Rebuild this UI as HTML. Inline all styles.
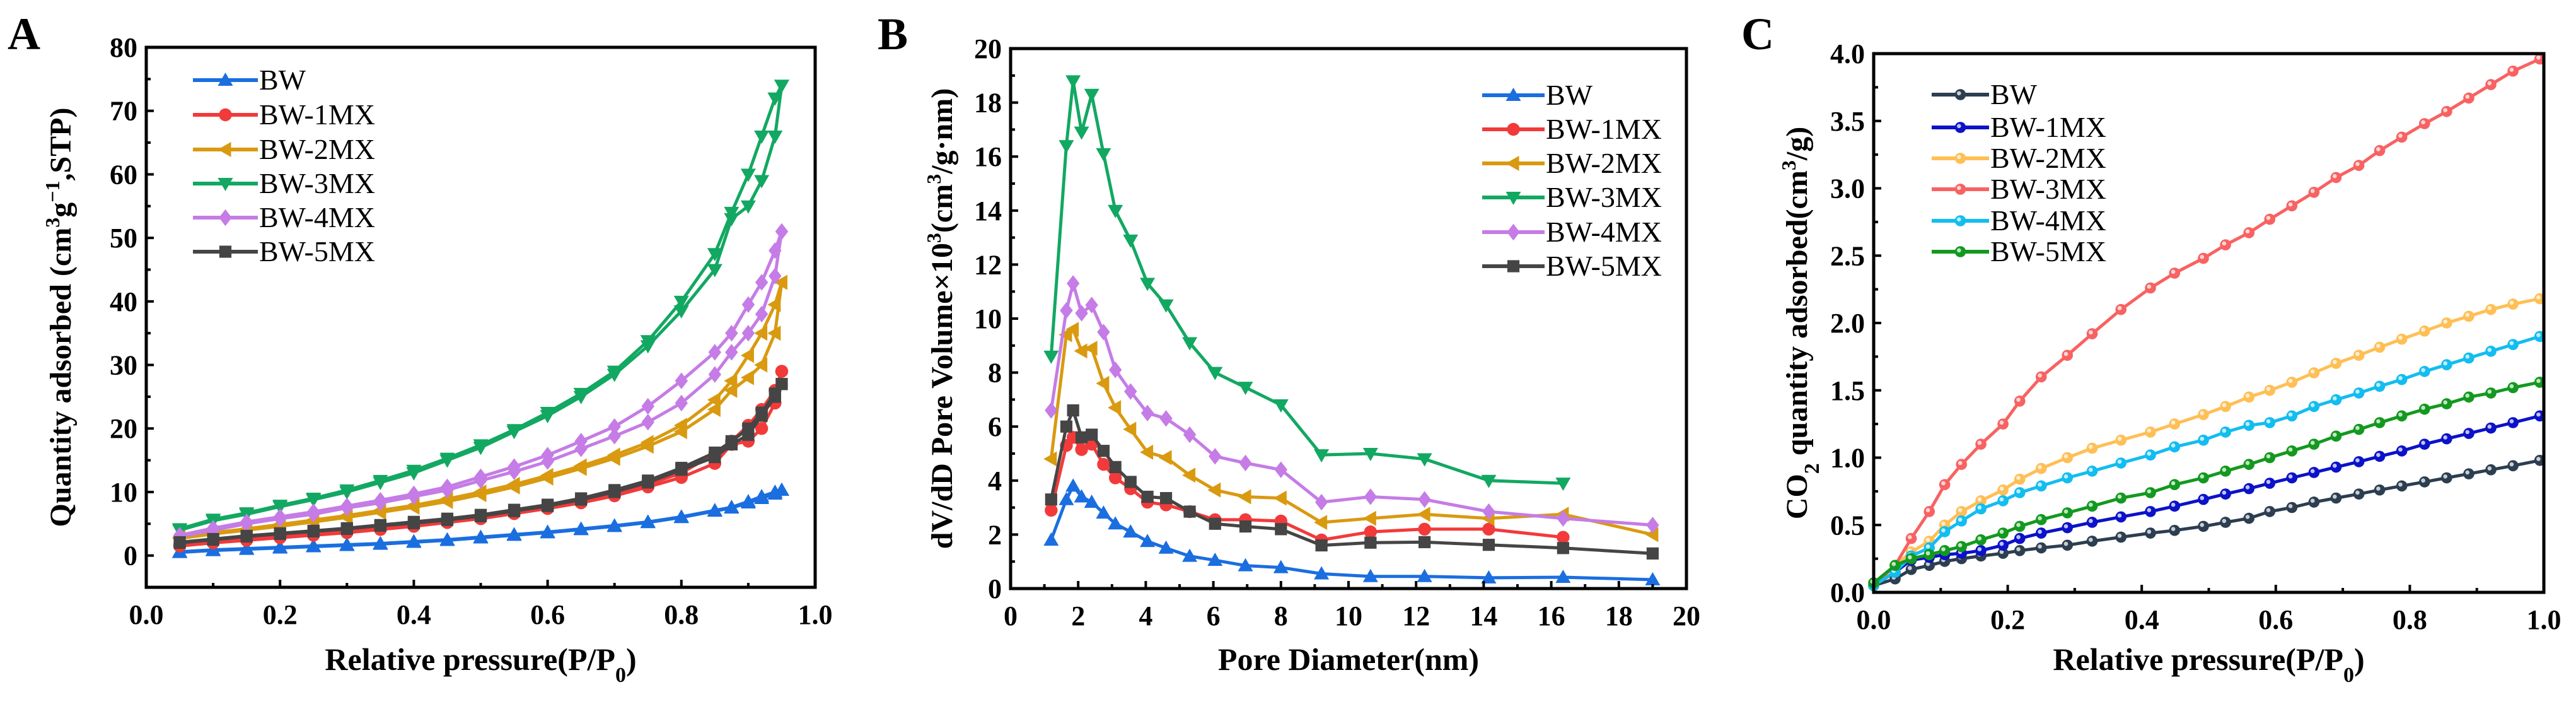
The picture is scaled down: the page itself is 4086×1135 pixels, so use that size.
<!DOCTYPE html>
<html><head><meta charset="utf-8">
<style>
html,body{margin:0;padding:0;background:#fff;}
svg{display:block;font-family:"Liberation Serif",serif;}
</style></head>
<body>
<svg id="fig" width="4086" height="1135" viewBox="0 0 4086 1135" xmlns="http://www.w3.org/2000/svg"></svg>
<script>
// ---------- Panel A data ----------
const aX = [0.05,0.1,0.15,0.2,0.25,0.3,0.35,0.4,0.45,0.5,0.55,0.6,0.65,0.7,0.75,0.8,0.85,0.875,0.9,0.92,0.94,0.95];
const aBWads  = [0.5,0.8,1,1.2,1.4,1.6,1.8,2.1,2.4,2.8,3.2,3.6,4.1,4.6,5.2,6,7,7.5,8.3,9,9.7,10.3];
const aBWdes  = [0.6,0.9,1.1,1.3,1.5,1.7,1.9,2.2,2.5,2.9,3.3,3.7,4.2,4.7,5.3,6.1,7.1,7.6,8.5,9.3,10,10.3];
const a1ads = [1.5,2,2.4,2.8,3.2,3.6,4.1,4.6,5.2,5.8,6.6,7.4,8.3,9.4,10.8,12.3,14.5,17.5,18,20,24,29];
const a1des = [1.7,2.2,2.6,3,3.4,3.8,4.3,4.8,5.4,6,6.8,7.6,8.6,9.8,11.2,13,16,18,20.5,23,26,29];
const a2ads = [2.7,3.4,4,4.6,5.3,6,6.8,7.6,8.5,9.6,10.8,12.2,13.7,15.3,17.2,19.5,23,26,28,30,35,43];
const a2des = [2.9,3.6,4.2,4.9,5.6,6.3,7.1,7.9,8.9,10,11.2,12.6,14.1,15.8,17.8,20.5,24.5,27.5,31.5,35,39.5,43];
const a3ads = [4,5.5,6.5,7.7,8.8,10,11.5,13,15,17,19.5,22,25,28.5,33,38.5,45,53,55,59,66,74];
const a3des = [4.2,5.7,6.7,7.9,9,10.3,11.8,13.4,15.3,17.4,19.8,22.5,25.5,29,33.8,40,47.5,54,60,66,72,74];
const a4ads = [3,4,5,5.8,6.5,7.5,8.3,9.3,10.3,11.8,13.2,14.8,16.8,18.8,21,24,28.5,32,35,38,44,51];
const a4des = [3.2,4.3,5.3,6.1,6.9,7.8,8.7,9.7,10.8,12.4,14,15.8,18,20.3,23.5,27.5,32,35,39.5,43,48,51];
const a5ads = [2,2.5,3,3.4,3.8,4.2,4.7,5.1,5.6,6.2,7,7.8,8.8,10,11.5,13.5,15.5,17.5,19,22,25,27];
const a5des = [2.1,2.6,3.1,3.5,3.9,4.3,4.8,5.3,5.8,6.4,7.2,8,9,10.3,11.8,13.8,16.2,18,20,22.5,25.5,27];
const aXTicks = [0,0.2,0.4,0.6,0.8,1.0];
const aXTickLabels = ["0.0","0.2","0.4","0.6","0.8","1.0"];
const aYTicks = [0,10,20,30,40,50,60,70,80];

// ---------- Panel B data ----------
const bX = [1.2,1.65,1.85,2.1,2.4,2.75,3.1,3.55,4.05,4.6,5.3,6.05,6.95,8.0,9.2,10.65,12.25,14.15,16.35,19.0];
const bBW = [1.8,3.3,3.8,3.4,3.2,2.8,2.4,2.1,1.75,1.5,1.2,1.05,0.85,0.78,0.55,0.45,0.45,0.4,0.42,0.33];
const b1 = [2.9,5.3,5.6,5.15,5.35,4.6,4.1,3.7,3.2,3.1,2.85,2.55,2.55,2.5,1.8,2.1,2.2,2.2,1.9,null];
const b2 = [4.8,9.4,9.6,8.8,8.9,7.6,6.7,5.9,5.05,4.85,4.2,3.65,3.4,3.35,2.45,2.6,2.75,2.6,2.75,2.0];
const b3 = [8.6,16.4,18.8,16.9,18.3,16.1,14.0,12.9,11.3,10.5,9.1,8.0,7.45,6.8,4.95,5.0,4.8,4.0,3.9,null];
const b4 = [6.6,10.3,11.3,10.2,10.5,9.5,8.1,7.3,6.5,6.3,5.7,4.9,4.65,4.4,3.2,3.4,3.3,2.85,2.6,2.35];
const b5 = [3.3,6.0,6.6,5.6,5.7,5.1,4.5,3.95,3.4,3.35,2.85,2.4,2.3,2.2,1.6,1.7,1.72,1.62,1.5,1.3];
const bXTicks = [0,2,4,6,8,10,12,14,16,18,20];
const bYTicks = [0,2,4,6,8,10,12,14,16,18,20];

// ---------- Panel C data ----------
const cX = [0,0.032,0.056,0.083,0.106,0.131,0.16,0.193,0.218,0.25,0.289,0.326,0.369,0.413,0.449,0.492,0.525,0.56,0.591,0.624,0.657,0.69,0.724,0.755,0.788,0.822,0.855,0.888,0.921,0.954,0.994];
const cBW = [0.05,0.1,0.17,0.2,0.23,0.25,0.27,0.29,0.31,0.33,0.35,0.38,0.41,0.44,0.46,0.49,0.52,0.55,0.6,0.63,0.67,0.7,0.73,0.76,0.79,0.82,0.85,0.88,0.91,0.94,0.98];
const c1 = [0.05,0.15,0.24,0.26,0.28,0.29,0.31,0.35,0.4,0.44,0.48,0.52,0.56,0.6,0.64,0.69,0.73,0.77,0.81,0.85,0.89,0.93,0.97,1.01,1.05,1.1,1.14,1.18,1.22,1.26,1.31];
const c2 = [0.05,0.2,0.3,0.38,0.5,0.6,0.68,0.76,0.84,0.92,1.0,1.07,1.13,1.19,1.25,1.32,1.38,1.45,1.5,1.56,1.63,1.7,1.76,1.82,1.88,1.94,2.0,2.05,2.1,2.14,2.18];
const c3 = [0.05,0.2,0.4,0.6,0.8,0.95,1.1,1.25,1.42,1.6,1.76,1.92,2.1,2.26,2.37,2.48,2.58,2.67,2.77,2.87,2.97,3.08,3.17,3.28,3.38,3.48,3.57,3.67,3.77,3.87,3.96];
const c4 = [0.05,0.15,0.27,0.33,0.45,0.53,0.62,0.68,0.74,0.79,0.85,0.9,0.96,1.02,1.08,1.13,1.19,1.24,1.26,1.31,1.38,1.43,1.48,1.53,1.58,1.64,1.69,1.74,1.79,1.84,1.9];
const c5 = [0.07,0.2,0.25,0.28,0.31,0.34,0.39,0.44,0.49,0.54,0.59,0.64,0.7,0.74,0.8,0.85,0.9,0.95,1.0,1.05,1.1,1.16,1.21,1.26,1.31,1.36,1.4,1.45,1.48,1.52,1.56];
const cXTicks = [0,0.2,0.4,0.6,0.8,1.0];
const cXTickLabels = ["0.0","0.2","0.4","0.6","0.8","1.0"];
const cYTicks = [0,0.5,1,1.5,2,2.5,3,3.5,4];
const cYTickLabels = ["0.0","0.5","1.0","1.5","2.0","2.5","3.0","3.5","4.0"];

const seriesNames = ["BW","BW-1MX","BW-2MX","BW-3MX","BW-4MX","BW-5MX"];

const NS="http://www.w3.org/2000/svg";
const svg=document.getElementById('fig');
function mk(tag,attrs,parent){const e=document.createElementNS(NS,tag);for(const k in attrs)e.setAttribute(k,attrs[k]);(parent||svg).appendChild(e);return e;}

function marker(g,shape,x,y,color,s){
  let e;
  if(shape==='tu') e=mk('polygon',{points:`${x},${y-s} ${x-s},${y+s*0.75} ${x+s},${y+s*0.75}`,fill:color},g);
  else if(shape==='td') e=mk('polygon',{points:`${x},${y+s} ${x-s},${y-s*0.75} ${x+s},${y-s*0.75}`,fill:color},g);
  else if(shape==='tl') e=mk('polygon',{points:`${x-s},${y} ${x+s*0.75},${y-s} ${x+s*0.75},${y+s}`,fill:color},g);
  else if(shape==='dm') e=mk('polygon',{points:`${x},${y-s*1.1} ${x+s*0.85},${y} ${x},${y+s*1.1} ${x-s*0.85},${y}`,fill:color},g);
  else if(shape==='sq') e=mk('rect',{x:x-s*0.8,y:y-s*0.8,width:s*1.6,height:s*1.6,fill:color},g);
  else if(shape==='ci') e=mk('circle',{cx:x,cy:y,r:s*0.85,fill:color},g);
  else if(shape==='ball'){ e=mk('circle',{cx:x,cy:y,r:s*0.8,fill:color},g); mk('circle',{cx:x-s*0.2,cy:y-s*0.2,r:s*0.3,fill:'#fff','fill-opacity':0.75},g);}
  return e;
}

function panel(cfg){
  const P=mk('g',{});
  
  
  const sx=v=>cfg.L+(v-cfg.x0)/(cfg.x1-cfg.x0)*(cfg.R-cfg.L);
  const sy=v=>cfg.B-(v-cfg.y0)/(cfg.y1-cfg.y0)*(cfg.B-cfg.T);
  const lt=mk('text',{x:cfg.letterX,y:78,'font-size':72,'font-weight':'bold'},P);
  lt.textContent=cfg.letter;
  
  
  cfg.series.forEach((s,i)=>{
    const g=mk('g',{},P);
    
    
    s.ys.forEach(ys=>{
      let d='';
      ys.forEach((v,j)=>{ if(v===null) return; d+=(d?'L':'M')+sx(cfg.xs[j]).toFixed(1)+','+sy(v).toFixed(1);});
      mk('path',{d:d,fill:'none',stroke:s.color,'stroke-width':5,'stroke-linejoin':'round'},g);
      ys.forEach((v,j)=>{ if(v===null) return; marker(g,s.shape,sx(cfg.xs[j]),sy(v),s.color,cfg.ms);});
    });
  });
  const fr=mk('rect',{x:cfg.L,y:cfg.T,width:cfg.R-cfg.L,height:cfg.B-cfg.T,fill:'none',stroke:'#000','stroke-width':5},P);
  
  
  const xt=mk('g',{},P);
  
  
  const xstep=cfg.xTicks[1]-cfg.xTicks[0];
  for(let k=0;k<cfg.xTicks.length;k++){
    const v=cfg.xTicks[k],x=sx(v);
    mk('line',{x1:x,y1:cfg.B,x2:x,y2:cfg.B-12,stroke:'#000','stroke-width':4},xt);
    if(k<cfg.xTicks.length-1){const xm=sx(v+xstep/2);mk('line',{x1:xm,y1:cfg.B,x2:xm,y2:cfg.B-7,stroke:'#000','stroke-width':4},xt);}
    const t=mk('text',{x:x,y:cfg.B+58,'font-size':44,'font-weight':'bold','text-anchor':'middle'},xt);
    t.textContent=cfg.xLabels?cfg.xLabels[k]:String(v);
  }
  const yt=mk('g',{},P);
  
  
  const ystep=cfg.yTicks[1]-cfg.yTicks[0];
  for(let k=0;k<cfg.yTicks.length;k++){
    const v=cfg.yTicks[k],y=sy(v);
    mk('line',{x1:cfg.L,y1:y,x2:cfg.L+12,y2:y,stroke:'#000','stroke-width':4},yt);
    const ym=sy(v+ystep/2); if(ym>cfg.T+3) mk('line',{x1:cfg.L,y1:ym,x2:cfg.L+7,y2:ym,stroke:'#000','stroke-width':4},yt);
    const t=mk('text',{x:cfg.L-14,y:y+15,'font-size':44,'font-weight':'bold','text-anchor':'end'},yt);
    t.textContent=cfg.yLabels?cfg.yLabels[k]:String(v);
  }
  const xtl=mk('text',{x:(cfg.L+cfg.R)/2,y:1062,'font-size':50,'font-weight':'bold','text-anchor':'middle'},P);
  xtl.innerHTML=cfg.xTitle;
  
  
  const ytl=mk('text',{x:0,y:0,'font-size':48,'font-weight':'bold','text-anchor':'middle',transform:`translate(${cfg.yTitleX},${(cfg.T+cfg.B)/2}) rotate(-90)`},P);
  ytl.innerHTML=cfg.yTitle;
  
  
  const lg=mk('g',{},P);
  
  
  cfg.series.forEach((s,i)=>{
    const y=cfg.legY[i];
    const e=mk('g',{},lg);
    
    
    mk('line',{x1:cfg.legX,y1:y,x2:cfg.legX+cfg.legW,y2:y,stroke:s.color,'stroke-width':6},e);
    marker(e,s.shape,cfg.legX+cfg.legW/2,y,s.color,cfg.ms);
    const t=mk('text',{x:cfg.legX+cfg.legW+2,y:y+15,'font-size':46},e);
    t.textContent=seriesNames[i];
  });
}

panel({name:'panel-a-n2-isotherm',letter:'A',letterX:12,L:232,R:1293,T:75,B:931,x0:0,x1:1,y0:-5,y1:80,
  xs:aX,ms:12,xTicks:aXTicks,xLabels:aXTickLabels,yTicks:aYTicks,
  xTitle:'Relative pressure(P/P<tspan baseline-shift="sub" font-size="34">0</tspan>)',
  yTitle:'Quantity adsorbed (cm<tspan baseline-shift="super" font-size="32">3</tspan>g<tspan baseline-shift="super" font-size="32">−1</tspan>,STP)',yTitleX:112,
  legX:306,legW:103,legY:[127,182,237,291,345,399],
  series:[
    {color:'#1a6ee0',shape:'tu',ys:[aBWads,aBWdes]},
    {color:'#f23a3a',shape:'ci',ys:[a1ads,a1des]},
    {color:'#d99a10',shape:'tl',ys:[a2ads,a2des]},
    {color:'#12a862',shape:'td',ys:[a3ads,a3des]},
    {color:'#c57ce6',shape:'dm',ys:[a4ads,a4des]},
    {color:'#454545',shape:'sq',ys:[a5ads,a5des]}]});

panel({name:'panel-b-pore-size',letter:'B',letterX:1392,L:1603,R:2675,T:77,B:933,x0:0,x1:20,y0:0,y1:20,
  xs:bX,ms:12,xTicks:bXTicks,yTicks:bYTicks,
  xTitle:'Pore Diameter(nm)',
  yTitle:'dV/dD Pore Volume×10<tspan baseline-shift="super" font-size="32">3</tspan>(cm<tspan baseline-shift="super" font-size="32">3</tspan>/g·nm)',yTitleX:1510,
  legX:2351,legW:99,legY:[151,205,259,313,368,422],
  series:[
    {color:'#1a6ee0',shape:'tu',ys:[bBW]},
    {color:'#f23a3a',shape:'ci',ys:[b1]},
    {color:'#d99a10',shape:'tl',ys:[b2]},
    {color:'#12a862',shape:'td',ys:[b3]},
    {color:'#c57ce6',shape:'dm',ys:[b4]},
    {color:'#454545',shape:'sq',ys:[b5]}]});

panel({name:'panel-c-co2-adsorption',letter:'C',letterX:2762,L:2972,R:4035,T:85,B:939,x0:0,x1:1,y0:0,y1:4,
  xs:cX,ms:11,xTicks:cXTicks,xLabels:cXTickLabels,yTicks:cYTicks,yLabels:cYTickLabels,
  xTitle:'Relative pressure(P/P<tspan baseline-shift="sub" font-size="34">0</tspan>)',
  yTitle:'CO<tspan baseline-shift="sub" font-size="34">2</tspan> quantity adsorbed(cm<tspan baseline-shift="super" font-size="32">3</tspan>/g)',yTitleX:2866,
  legX:3064,legW:91,legY:[150,202,251,300,350,399],
  series:[
    {color:'#2c3e50',shape:'ball',ys:[cBW]},
    {color:'#0b12c8',shape:'ball',ys:[c1]},
    {color:'#ffbf55',shape:'ball',ys:[c2]},
    {color:'#f86262',shape:'ball',ys:[c3]},
    {color:'#12bdf0',shape:'ball',ys:[c4]},
    {color:'#13991f',shape:'ball',ys:[c5]}]});
</script>
</body></html>
